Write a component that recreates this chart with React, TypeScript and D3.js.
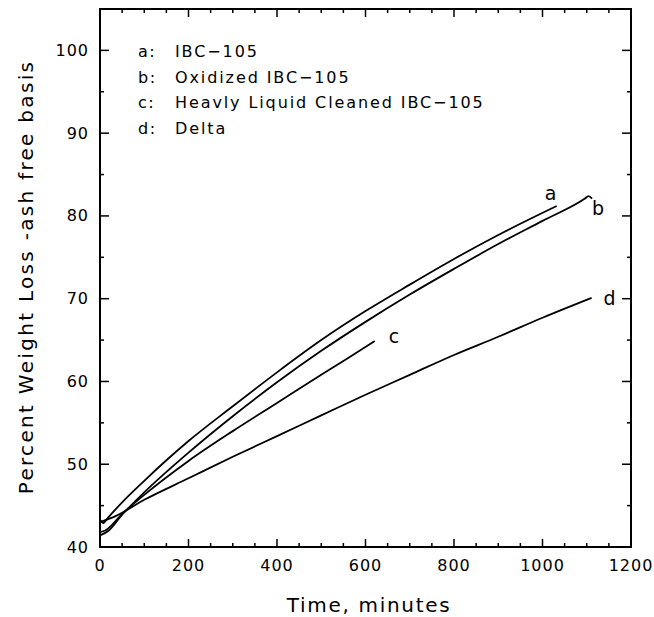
import React from "react";
import * as d3 from "d3";

const xTicks = [0, 200, 400, 600, 800, 1000, 1200];
const yTicks = [40, 50, 60, 70, 80, 90, 100];

const seriesA: [number, number][] = [
  [0, 43.3], [8, 42.9], [16, 43.4], [50, 45.4], [100, 48.0], [200, 52.8], [300, 57.0],
  [400, 61.1], [500, 65.0], [600, 68.5], [700, 71.7], [800, 74.8], [900, 77.7], [1032, 81.2],
];
const seriesB: [number, number][] = [
  [0, 41.4], [20, 42.0], [50, 43.9], [100, 46.6], [200, 51.4], [300, 55.8], [400, 59.9],
  [500, 63.7], [600, 67.2], [700, 70.5], [800, 73.6], [900, 76.6], [1000, 79.4],
  [1096, 82.1], [1104, 82.4], [1112, 82.1],
];
const seriesC: [number, number][] = [
  [0, 41.8], [12, 42.0], [50, 44.0], [100, 46.3], [200, 50.4], [300, 54.0], [400, 57.4],
  [500, 60.8], [560, 62.8], [621, 64.9],
];
const seriesD: [number, number][] = [
  [0, 43.0], [34, 43.7], [100, 45.7], [200, 48.3], [300, 50.9], [400, 53.4], [500, 55.9],
  [600, 58.4], [700, 60.8], [800, 63.2], [900, 65.4], [1000, 67.7], [1111, 70.1],
];

const legendKeys = ["a:", "b:", "c:", "d:"];
const legendNames = ["IBC\u2212105", "Oxidized IBC\u2212105", "Heavly Liquid Cleaned IBC\u2212105", "Delta"];
const curveLabels = ["a", "b", "c", "d"];

const FONT = "DejaVu Sans, sans-serif";

export default function App() {
  const left = 100, right = 631, top = 9, bottom = 547;
  const x = d3.scaleLinear().domain([0, 1200]).range([left, right]);
  const y = d3.scaleLinear().domain([40, 105]).range([bottom, top]);
  const line = d3
    .line<[number, number]>()
    .x((d) => x(d[0]))
    .y((d) => y(d[1]))
    .curve(d3.curveMonotoneX);

  const xMinor = d3.range(0, 1201, 50);
  const yMinor = d3.range(40, 105.1, 5);
  const series = [seriesA, seriesB, seriesC, seriesD];
  const labelOffsets = [[-12, -13], [0, 9], [14, -5], [12, 0]];

  return (
    <svg width={654} height={617} style={{ position: "absolute", left: 0, top: 0, background: "#fff" }}>
      <rect x={0} y={0} width={654} height={617} fill="#fff" />
      <rect x={left} y={top} width={right - left} height={bottom - top} fill="none" stroke="#000" strokeWidth={2} />
      {xMinor.map((t) => {
        const major = t % 200 === 0;
        const len = major ? 8 : 4;
        return (
          <g key={"xt" + t}>
            <line x1={x(t)} x2={x(t)} y1={bottom} y2={bottom - len} stroke="#000" strokeWidth={1.5} />
            <line x1={x(t)} x2={x(t)} y1={top} y2={top + len} stroke="#000" strokeWidth={1.5} />
          </g>
        );
      })}
      {yMinor.map((v) => {
        const major = v % 10 === 0;
        const len = major ? 9 : 4;
        return (
          <g key={"yt" + v}>
            <line x1={left} x2={left + len} y1={y(v)} y2={y(v)} stroke="#000" strokeWidth={1.5} />
            <line x1={right} x2={right - len} y1={y(v)} y2={y(v)} stroke="#000" strokeWidth={1.5} />
          </g>
        );
      })}
      {xTicks.map((t) => (
        <text key={"xl" + t} x={x(t)} y={565} textAnchor="middle" dominantBaseline="central"
          fontFamily={FONT} fontSize={16} letterSpacing={1}>
          {t}
        </text>
      ))}
      {yTicks.map((v) => (
        <text key={"yl" + v} x={89} y={y(v)} textAnchor="end" dominantBaseline="central"
          fontFamily={FONT} fontSize={16} letterSpacing={1}>
          {v}
        </text>
      ))}
      <text x={369} y={612} textAnchor="middle" fontFamily={FONT} fontSize={20} letterSpacing={1.7}>
        Time, minutes
      </text>
      <text transform={`translate(33,277) rotate(-90)`} textAnchor="middle" fontFamily={FONT}
        fontSize={20} letterSpacing={2.3}>
        Percent Weight Loss -ash free basis
      </text>
      {legendKeys.map((k, i) => (
        <g key={"lg" + k}>
          <text x={138} y={57 + i * 25.5} fontFamily={FONT} fontSize={16} letterSpacing={1.5}>{k}</text>
          <text x={175} y={57 + i * 25.5} fontFamily={FONT} fontSize={16} letterSpacing={1.9}>{legendNames[i]}</text>
        </g>
      ))}
      {series.map((s, i) => (
        <path key={"s" + i} d={line(s) || ""} fill="none" stroke="#000" strokeWidth={1.8} strokeLinejoin="round" />
      ))}
      {series.map((s, i) => {
        const last = s[s.length - 1];
        return (
          <text key={"cl" + i} x={x(last[0]) + labelOffsets[i][0]} y={y(last[1]) + labelOffsets[i][1]}
            dominantBaseline="central" fontFamily={FONT} fontSize={19}>
            {curveLabels[i]}
          </text>
        );
      })}
    </svg>
  );
}
